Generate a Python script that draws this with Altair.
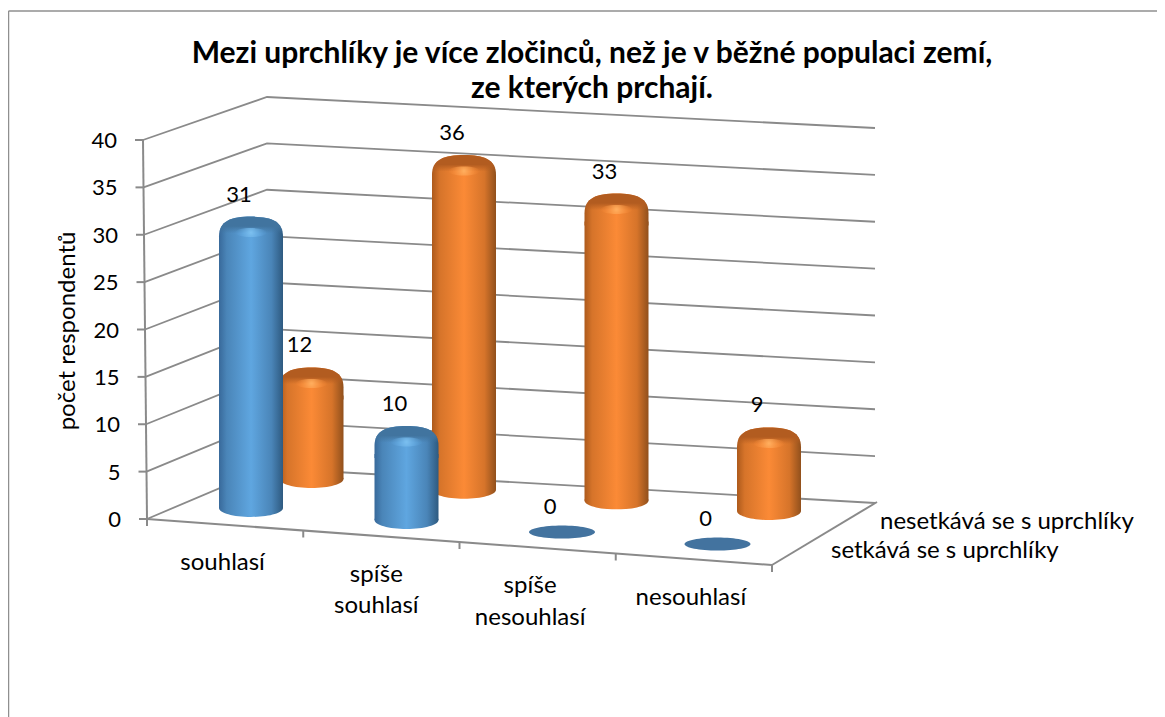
import altair as alt
import pandas as pd

TITLE = ["Mezi uprchlíky je více zločinců, než je v běžné populaci zemí,", "ze kterých prchají."]
CATEGORIES = [["souhlasí"], ["spíše", "souhlasí"], ["spíše", "nesouhlasí"], ["nesouhlasí"]]
SERIES = ["setkává se s uprchlíky", "nesetkává se s uprchlíky"]
MEETS = [31, 10, 0, 0]
NOT_MEETS = [12, 36, 33, 9]
TICKS = [0, 5, 10, 15, 20, 25, 30, 35, 40]
Y_TITLE = "počet respondentů"
FONT = "Lato"

# 3D projection of the scene on the picture
FLOOR = dict(fl=(147, 519), fr=(772, 565), br=(875, 503), bl=(267, 468))
TOP = dict(f=(143, 140), bl=(267, 97), br=(875, 128))
ROW = {0: dict(x0=251, dx=155.5, y0=508, dy=12, k=9.4), 1: dict(x0=311.5, dx=152.5, y0=479, dy=10.7, k=9.3)}
CAT_SHIFT = [-2.5, -5, -7.5, -3]


def base(cat, ser):
    r = ROW[ser]
    return r["x0"] + r["dx"] * cat, r["y0"] + r["dy"] * cat


def bars(values, ser):
    rows = []
    for i, v in enumerate(values):
        x, y = base(i, ser)
        rows.append(dict(value=v, x=x, xl=x - 32, xr=x + 32, ybase=y, ytop=y - v * ROW[ser]["k"],
                         ybody=y - v * ROW[ser]["k"] + 28))
    return pd.DataFrame(rows)


def lerp(a, b, t):
    return a[0] + (b[0] - a[0]) * t, a[1] + (b[1] - a[1]) * t


xs = alt.Scale(domain=[8, 1157], range=[0, 1149], nice=False, zero=False)
ys = alt.Scale(domain=[8, 717], range=[0, 709], nice=False, zero=False)
X = alt.X("x:Q", scale=xs, axis=None)
Y = alt.Y("y:Q", scale=ys, axis=None)
GRAY = "#8a8a8a"


def stops(*pairs):
    return [alt.GradientStop(color=c, offset=o) for o, c in pairs]


def hgrad(*pairs):
    return alt.LinearGradient(gradient="linear", stops=stops(*pairs), x1=0, x2=1, y1=0, y2=0)


def vgrad(*pairs):
    return alt.LinearGradient(gradient="linear", stops=stops(*pairs), x1=0, x2=0, y1=0, y2=1)


def rgrad(*pairs):
    return alt.RadialGradient(gradient="radial", stops=stops(*pairs), x1=0.5, y1=0.5, r1=0, x2=0.5, y2=0.5, r2=0.5)


def ellipse(cx, cy, rx, ry):
    return f"M{cx - rx},{cy}A{rx},{ry},0,1,1,{cx + rx},{cy}A{rx},{ry},0,1,1,{cx - rx},{cy}Z"


CAP = "M-1,0.62C-1,0.14,-0.62,0,0,0C0.62,0,1,0.14,1,0.62L1,1L-1,1Z"
SIZE = 4096

# grid
grid_rows = []
for n, t in enumerate(TICKS):
    f = t / 40
    front = lerp(FLOOR["fl"], TOP["f"], f)
    bl = lerp(FLOOR["bl"], TOP["bl"], f)
    br = lerp(FLOOR["br"], TOP["br"], f)
    grid_rows += [dict(id=n, o=0, x=front[0], y=front[1]), dict(id=n, o=1, x=bl[0], y=bl[1]), dict(id=n, o=2, x=br[0], y=br[1])]
grid = alt.Chart(pd.DataFrame(grid_rows)).mark_line(color=GRAY, strokeWidth=1.8).encode(X, Y, detail="id:N", order="o:Q")

edge_rows = [
    dict(id="axis", o=0, x=TOP["f"][0], y=TOP["f"][1]), dict(id="axis", o=1, x=FLOOR["fl"][0], y=FLOOR["fl"][1]),
    dict(id="front", o=0, x=FLOOR["fl"][0], y=FLOOR["fl"][1]), dict(id="front", o=1, x=FLOOR["fr"][0], y=FLOOR["fr"][1]),
    dict(id="side", o=0, x=FLOOR["fr"][0], y=FLOOR["fr"][1]), dict(id="side", o=1, x=FLOOR["br"][0] + 2, y=FLOOR["br"][1] - 1),
]
for t in TICKS:
    p = lerp(FLOOR["fl"], TOP["f"], t / 40)
    edge_rows += [dict(id=f"t{t}", o=0, x=p[0] - 8, y=p[1]), dict(id=f"t{t}", o=1, x=p[0], y=p[1])]
for i in range(5):
    p = lerp(FLOOR["fl"], FLOOR["fr"], i / 4)
    edge_rows += [dict(id=f"c{i}", o=0, x=p[0], y=p[1]), dict(id=f"c{i}", o=1, x=p[0], y=p[1] + 7)]
edges = alt.Chart(pd.DataFrame(edge_rows)).mark_line(color=GRAY, strokeWidth=2).encode(X, Y, detail="id:N", order="o:Q")

# outer frame
frame = [
    alt.Chart(pd.DataFrame([dict(x=8.5, x2=1157, y=11)])).mark_rule(color="#8f8f8f", strokeWidth=1.5).encode(X, x2="x2:Q", y=Y),
    alt.Chart(pd.DataFrame([dict(x=8.5, y=11, y2=717)])).mark_rule(color="#8f8f8f", strokeWidth=1.5).encode(X, Y, y2="y2:Q"),
]


def cylinders(values, ser, body_grad, dark, spot):
    d = bars(values, ser)
    d = d[d.value > 0]
    c = alt.Chart(d)
    bx, by = alt.X("x:Q", scale=xs, axis=None), alt.Y("ybase:Q", scale=ys, axis=None)
    ty = alt.Y("ytop:Q", scale=ys, axis=None)
    return [
        c.mark_point(filled=True, fill=body_grad, opacity=1, strokeWidth=0, size=SIZE, shape=ellipse(0, 0, 1, 0.28)).encode(bx, by),
        c.mark_rect(fill=body_grad).encode(alt.X("xl:Q", scale=xs, axis=None), x2="xr:Q", y=alt.Y("ybody:Q", scale=ys, axis=None), y2="ybase:Q"),
        c.mark_point(filled=True, fill=body_grad, opacity=1, strokeWidth=0, size=SIZE, shape=CAP).encode(bx, ty),
        c.mark_point(filled=True, fill=dark, opacity=1, strokeWidth=0, size=SIZE, shape=CAP).encode(bx, ty),
        c.mark_point(filled=True, fill=spot, opacity=1, strokeWidth=0, size=SIZE, shape=ellipse(0, 0.5, 0.5, 0.14)).encode(bx, ty),
    ]


blue = cylinders(
    MEETS, 0,
    hgrad((0, "#38699a"), (0.12, "#4a85b8"), (0.5, "#5fa6e0"), (0.82, "#4a85b8"), (1, "#2e5a80")),
    vgrad((0, "#41749f"), (0.3, "#41749f"), (0.52, "rgba(65,116,159,0)"), (1, "rgba(65,116,159,0)")),
    rgrad((0, "#7cc0f0"), (1, "rgba(95,166,224,0)")),
)
orange = cylinders(
    NOT_MEETS, 1,
    hgrad((0, "#ad5a1c"), (0.12, "#d6742a"), (0.5, "#fb8a36"), (0.82, "#d6742a"), (1, "#91501c")),
    vgrad((0, "#b25c20"), (0.3, "#b25c20"), (0.52, "rgba(178,92,32,0)"), (1, "rgba(178,92,32,0)")),
    rgrad((0, "#ffb060"), (1, "rgba(251,138,54,0)")),
)

# zero-height discs
zero = bars(MEETS, 0)
zero = zero[zero.value == 0]
discs = alt.Chart(zero).mark_point(filled=True, fill="#43739f", opacity=1, strokeWidth=0, size=4356, shape=ellipse(0, 0, 1, 0.2)).encode(
    alt.X("x:Q", scale=xs, axis=None), alt.Y("ybase:Q", scale=ys, axis=None))


# texts
def text(rows, size=24, **kw):
    return alt.Chart(pd.DataFrame(rows)).mark_text(font=FONT, fontSize=size, color="#000000", baseline="middle", **kw).encode(X, Y, text="t:N")


vals = []
for ser, arr in ((0, MEETS), (1, NOT_MEETS)):
    d = bars(arr, ser)
    for _, r in d.iterrows():
        off = -25 if r.value == 0 else -22
        vals.append(dict(x=r.x - 12, y=r.ytop + off, t=str(int(r.value))))
value_text = text(vals, size=22, align="center")

tick_text = text([dict(x=lerp(FLOOR["fl"], TOP["f"], t / 40)[0] - 26, y=lerp(FLOOR["fl"], TOP["f"], t / 40)[1] + 1, t=str(t)) for t in TICKS], size=22, align="right")

cat_rows = []
for i, lines in enumerate(CATEGORIES):
    p = lerp(FLOOR["fl"], FLOOR["fr"], (i + 0.5) / 4)
    for j, line in enumerate(lines):
        cat_rows.append(dict(x=p[0] + CAT_SHIFT[i], y=p[1] + 38.5 + j * 31.5, t=line))
cat_text = text(cat_rows, size=24, align="center")

series_text = text([
    dict(x=FLOOR["fr"][0] + 59, y=FLOOR["fr"][1] - 14, t=SERIES[0]),
    dict(x=FLOOR["br"][0] + 5, y=FLOOR["br"][1] + 19, t=SERIES[1]),
], size=24, align="left")

ytitle = alt.Chart(pd.DataFrame([dict(x=68, y=331, t=Y_TITLE)])).mark_text(font=FONT, fontSize=24, angle=270, color="#000000", baseline="middle", align="center").encode(X, Y, text="t:N")

chart = alt.layer(
    *frame, grid, edges, *orange, *blue, discs, value_text, tick_text, cat_text, series_text, ytitle,
).properties(
    width=1149, height=709, padding=0, autosize="none",
    title=alt.TitleParams(text=TITLE, font=FONT, fontSize=30, fontWeight="bold", color="#000000",
                          anchor="middle", dx=9.5, dy=96, lineHeight=35, offset=0),
).configure_view(stroke=None)

chart.save("out.html", embed_options={"renderer": "svg", "actions": False})
